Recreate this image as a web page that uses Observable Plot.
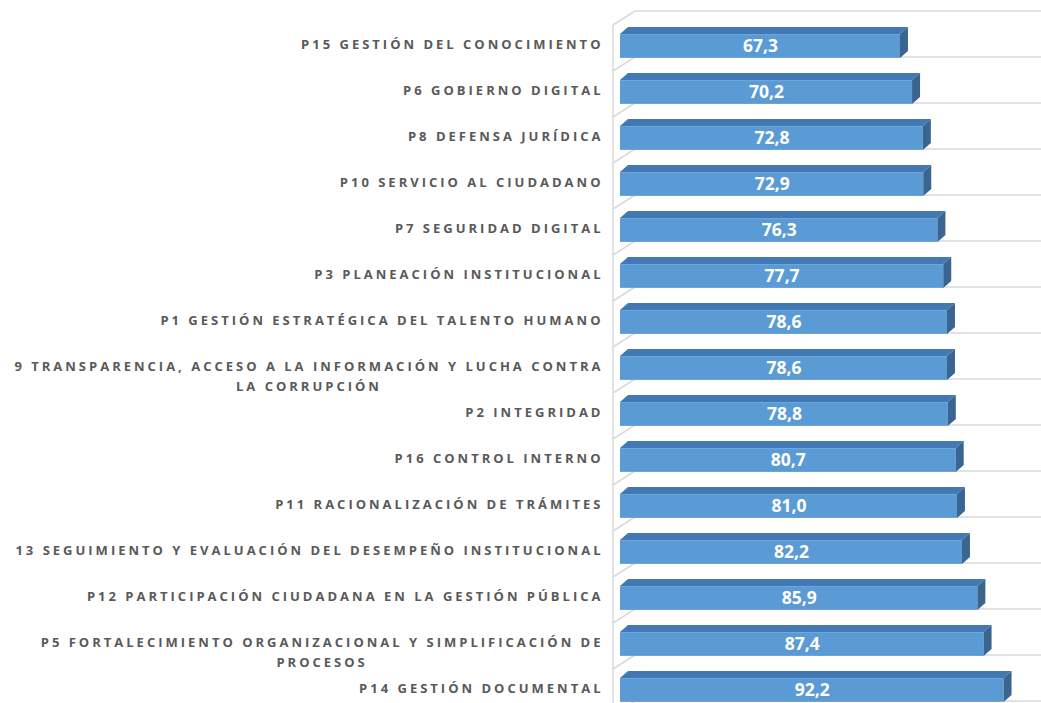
<!DOCTYPE html>
<html><head><meta charset="utf-8">
<script src="https://cdn.jsdelivr.net/npm/d3@7"></script>
<script src="https://cdn.jsdelivr.net/npm/@observablehq/plot@0.6"></script>
<style>
html,body{margin:0;padding:0;background:#fff;overflow:hidden}
</style>
</head><body><div id="chart"></div>
<script>
const categories = [
  "P15 GESTIÓN DEL CONOCIMIENTO",
  "P6 GOBIERNO DIGITAL",
  "P8 DEFENSA JURÍDICA",
  "P10 SERVICIO AL CIUDADANO",
  "P7 SEGURIDAD DIGITAL",
  "P3 PLANEACIÓN INSTITUCIONAL",
  "P1 GESTIÓN ESTRATÉGICA DEL TALENTO HUMANO",
  "9 TRANSPARENCIA, ACCESO A LA INFORMACIÓN Y LUCHA CONTRA LA CORRUPCIÓN",
  "P2 INTEGRIDAD",
  "P16 CONTROL INTERNO",
  "P11 RACIONALIZACIÓN DE TRÁMITES",
  "13 SEGUIMIENTO Y EVALUACIÓN DEL DESEMPEÑO INSTITUCIONAL",
  "P12 PARTICIPACIÓN CIUDADANA EN LA GESTIÓN PÚBLICA",
  "P5 FORTALECIMIENTO ORGANIZACIONAL Y SIMPLIFICACIÓN DE PROCESOS",
  "P14 GESTIÓN DOCUMENTAL"
];
const labelLines = [
  "P15 GESTIÓN DEL CONOCIMIENTO",
  "P6 GOBIERNO DIGITAL",
  "P8 DEFENSA JURÍDICA",
  "P10 SERVICIO AL CIUDADANO",
  "P7 SEGURIDAD DIGITAL",
  "P3 PLANEACIÓN INSTITUCIONAL",
  "P1 GESTIÓN ESTRATÉGICA DEL TALENTO HUMANO",
  "9 TRANSPARENCIA, ACCESO A LA INFORMACIÓN Y LUCHA CONTRA\nLA CORRUPCIÓN",
  "P2 INTEGRIDAD",
  "P16 CONTROL INTERNO",
  "P11 RACIONALIZACIÓN DE TRÁMITES",
  "13 SEGUIMIENTO Y EVALUACIÓN DEL DESEMPEÑO INSTITUCIONAL",
  "P12 PARTICIPACIÓN CIUDADANA EN LA GESTIÓN PÚBLICA",
  "P5 FORTALECIMIENTO ORGANIZACIONAL Y SIMPLIFICACIÓN DE\nPROCESOS",
  "P14 GESTIÓN DOCUMENTAL"
];
const values = [67.3, 70.2, 72.8, 72.9, 76.3, 77.7, 78.6, 78.6, 78.8, 80.7, 81.0, 82.2, 85.9, 87.4, 92.2];
const xDomain = [0, 100];

const data = categories.map((c, i) => ({cat: c, label: labelLines[i], value: values[i]}));
const fmt = v => v.toFixed(1).replace(".", ",");

const W = 1041, H = 703;
const step = 46.25, face = 24;
const bandStart = 44.5 - step / 2;
const FONT = "'Open Sans', 'DejaVu Sans', sans-serif";

const plot = Plot.plot({
  width: W, height: H,
  marginLeft: 620, marginRight: 5, marginTop: 0, marginBottom: 0,
  style: {background: "transparent", overflow: "hidden", fontFamily: FONT},
  x: {domain: xDomain, axis: null},
  y: {domain: categories, range: [bandStart, bandStart + step * categories.length], padding: 0, axis: null},
  marks: [
    Plot.barX(data, {x: "value", y: "cat", fill: "#5b9bd5",
      insetTop: (step - face) / 2, insetBottom: (step - face) / 2}),
    Plot.text(data, {x: d => d.value / 2, y: "cat", text: d => fmt(d.value),
      fill: "white", fontWeight: "bold", fontSize: 17.5, fontFamily: FONT, dy: 0}),
    Plot.text(data, {x: 0, y: "cat", text: "label", textAnchor: "end", dx: -17, dy: -11,
      lineAnchor: "top", lineHeight: 1.5, fill: "#595959", fontWeight: "bold",
      fontSize: 13, fontFamily: FONT})
  ]
});
document.getElementById("chart").appendChild(plot);

const textGroups = plot.querySelectorAll('g[aria-label="text"]');
const labelGroup = textGroups[textGroups.length - 1];
labelGroup.setAttribute("letter-spacing", "3");

// 3D decoration built from the plot's own scales
const xs = plot.scale("x"), ys = plot.scale("y");
const X = v => xs.apply(v);
const Yc = c => ys.apply(c) + ys.bandwidth / 2;
const ns = "http://www.w3.org/2000/svg";
const depthX = 8, depthY = 7;
const half = face / 2;

// back wall / floor gridlines
const grid = document.createElementNS(ns, "g");
const barG = plot.querySelector('g[aria-label="bar"]');
plot.insertBefore(grid, barG);
const gsel = d3.select(grid).attr("stroke", "#d9d9d9").attr("stroke-width", 1.5).attr("fill", "none");
const floorX0 = X(0) - 7, floorX1 = X(0) + 15, floorDrop = 14;
const backYs = [Yc(categories[0]) - ys.step + 11].concat(categories.map(c => Yc(c) + 11));
backYs.forEach(yb => {
  gsel.append("path").attr("d", `M${floorX0},${yb + floorDrop}L${floorX1},${yb}L${W + 5},${yb}`);
});
gsel.append("path").attr("d", `M${floorX0},${backYs[0] + floorDrop}L${floorX0},${H + 5}`);

// top and side faces
const faces = document.createElementNS(ns, "g");
barG.after(faces);
const fsel = d3.select(faces);
data.forEach(d => {
  const yc = Yc(d.cat), x0 = X(0), x1 = X(d.value);
  fsel.append("path").attr("fill", "#4279b4")
    .attr("d", `M${x0},${yc - half}L${x0 + depthX},${yc - half - depthY}L${x1 + depthX},${yc - half - depthY}L${x1},${yc - half}Z`);
  fsel.append("path").attr("fill", "#3a6591")
    .attr("d", `M${x1},${yc - half}L${x1 + depthX},${yc - half - depthY}L${x1 + depthX},${yc + half - depthY}L${x1},${yc + half}Z`);
});

// center wrapped category lines as a block, right-aligned
labelGroup.querySelectorAll("text").forEach(t => {
  const spans = t.querySelectorAll("tspan");
  if (spans.length > 1) {
    const widths = Array.from(spans, s => s.getComputedTextLength());
    const maxW = Math.max(...widths);
    t.setAttribute("text-anchor", "middle");
    spans.forEach(s => s.setAttribute("x", -maxW / 2));
  }
});
</script>
</body></html>
